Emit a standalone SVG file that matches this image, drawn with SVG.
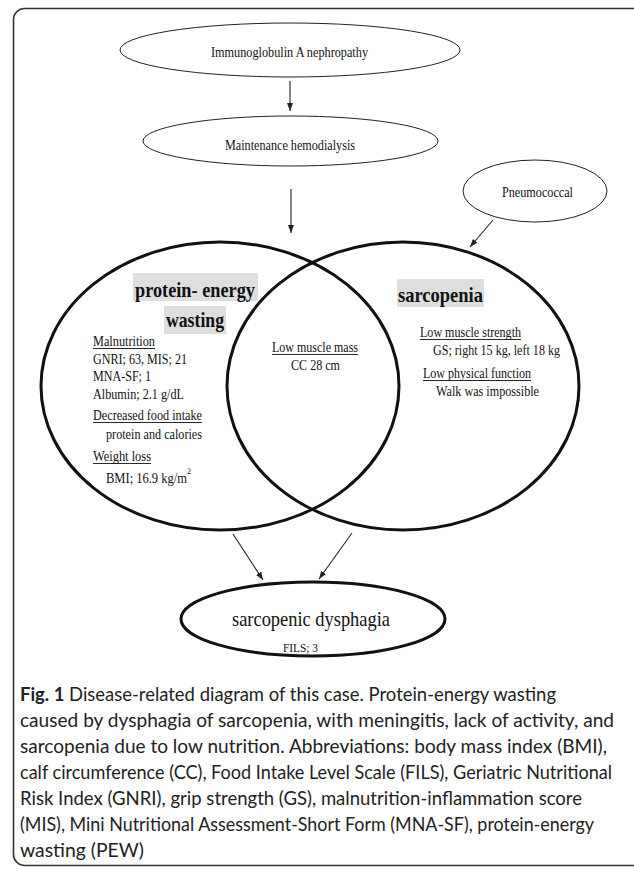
<svg xmlns="http://www.w3.org/2000/svg" width="634" height="869" viewBox="0 0 634 869">
<style>
.t{font-family:"Liberation Serif","Times New Roman",serif;font-size:14px;fill:#111}
.b{font-family:"Liberation Serif","Times New Roman",serif;font-weight:bold;font-size:21px;fill:#111}
.cap{font-family:Lato,"Open Sans",sans-serif;font-size:19px;fill:#222}
.thin{fill:none;stroke:#222;stroke-width:1}
.thick{fill:none;stroke:#111;stroke-width:3}
.ul{stroke:#111;stroke-width:0.9}
.hl{fill:#dedede}
.arr{stroke:#222;stroke-width:1.1;fill:none;marker-end:url(#ah)}
</style>
<defs>
<marker id="ah" markerUnits="userSpaceOnUse" markerWidth="8" markerHeight="8" refX="8" refY="4" orient="auto">
<path d="M0,1 L8,4 L0,7 z" fill="#222"/>
</marker>
</defs>
<rect x="0" y="0" width="634" height="869" fill="#fff"/>
<rect id="frame" x="13.5" y="8.5" width="640" height="857" rx="11" fill="none" stroke="#333" stroke-width="1.6"/>

<g id="node-igan">
<ellipse class="thin" cx="290" cy="50" rx="170" ry="27"/>
<text class="t" x="211" y="57" textLength="157" lengthAdjust="spacingAndGlyphs">Immunoglobulin A nephropathy</text>
</g>
<g id="node-hd">
<ellipse class="thin" cx="290.5" cy="141" rx="147.5" ry="25"/>
<text class="t" x="225" y="150" textLength="130" lengthAdjust="spacingAndGlyphs">Maintenance hemodialysis</text>
</g>
<g id="node-pneumo">
<ellipse class="thin" cx="535" cy="191" rx="72" ry="31"/>
<text class="t" x="502" y="197" textLength="71" lengthAdjust="spacingAndGlyphs">Pneumococcal</text>
</g>

<g id="node-pew">
<ellipse class="thick" cx="220" cy="386" rx="179" ry="144"/>
<rect class="hl" x="133" y="273" width="125" height="28"/>
<rect class="hl" x="164" y="306" width="62" height="28"/>
<text class="b" x="135" y="297" textLength="120" lengthAdjust="spacingAndGlyphs">protein- energy</text>
<text class="b" x="166" y="327" textLength="58" lengthAdjust="spacingAndGlyphs">wasting</text>
<text class="t" x="93" y="346" textLength="62" lengthAdjust="spacingAndGlyphs">Malnutrition</text>
<line class="ul" x1="93" y1="348.5" x2="155" y2="348.5"/>
<text class="t" x="93" y="364" textLength="94" lengthAdjust="spacingAndGlyphs">GNRI; 63, MIS; 21</text>
<text class="t" x="93" y="381" textLength="58" lengthAdjust="spacingAndGlyphs">MNA-SF; 1</text>
<text class="t" x="93" y="399" textLength="91" lengthAdjust="spacingAndGlyphs">Albumin; 2.1 g/dL</text>
<text class="t" x="93" y="420" textLength="109" lengthAdjust="spacingAndGlyphs">Decreased food intake</text>
<line class="ul" x1="93" y1="422.5" x2="202" y2="422.5"/>
<text class="t" x="106" y="439" textLength="96" lengthAdjust="spacingAndGlyphs">protein and calories</text>
<text class="t" x="93" y="461" textLength="58" lengthAdjust="spacingAndGlyphs">Weight loss</text>
<line class="ul" x1="93" y1="463.5" x2="151" y2="463.5"/>
<text class="t" x="106" y="483" textLength="85" lengthAdjust="spacingAndGlyphs">BMI; 16.9 kg/m<tspan dy="-9" style="font-size:9px">2</tspan></text>
</g>

<g id="node-sarc">
<ellipse class="thick" cx="403" cy="386" rx="176" ry="144"/>
<rect class="hl" x="397" y="279" width="87" height="28"/>
<text class="b" x="398" y="302" textLength="85" lengthAdjust="spacingAndGlyphs">sarcopenia</text>
<text class="t" x="420" y="337" textLength="101" lengthAdjust="spacingAndGlyphs">Low muscle strength</text>
<line class="ul" x1="420" y1="339.5" x2="521" y2="339.5"/>
<text class="t" x="433" y="355" textLength="127" lengthAdjust="spacingAndGlyphs">GS; right 15 kg, left 18 kg</text>
<text class="t" x="423" y="378" textLength="108" lengthAdjust="spacingAndGlyphs">Low physical function</text>
<line class="ul" x1="423" y1="380.5" x2="531" y2="380.5"/>
<text class="t" x="436" y="396" textLength="103" lengthAdjust="spacingAndGlyphs">Walk was impossible</text>
</g>

<g id="node-overlap">
<text class="t" x="272" y="352" textLength="86" lengthAdjust="spacingAndGlyphs">Low muscle mass</text>
<line class="ul" x1="272" y1="354.5" x2="358" y2="354.5"/>
<text class="t" x="291" y="370" textLength="49" lengthAdjust="spacingAndGlyphs">CC 28 cm</text>
</g>

<g id="node-dysphagia">
<ellipse class="thick" cx="313" cy="619" rx="132" ry="37"/>
<text class="t" x="232" y="626" style="font-size:21px" textLength="158" lengthAdjust="spacingAndGlyphs">sarcopenic dysphagia</text>
<text class="t" x="283" y="652" style="font-size:13px" textLength="35" lengthAdjust="spacingAndGlyphs">FILS; 3</text>
</g>

<g id="connectors">
<line class="arr" x1="290" y1="81" x2="290" y2="111"/>
<line class="arr" x1="291" y1="189" x2="291" y2="233"/>
<line class="arr" x1="493" y1="220" x2="470" y2="247"/>
<line class="arr" x1="233" y1="534" x2="263" y2="580"/>
<line class="arr" x1="352" y1="533" x2="319" y2="579"/>
</g>

<g id="caption">
<text class="cap" x="20" y="701" textLength="536" lengthAdjust="spacingAndGlyphs"><tspan font-weight="bold">Fig. 1</tspan> Disease-related diagram of this case. Protein-energy wasting</text>
<text class="cap" x="20" y="727" textLength="594" lengthAdjust="spacingAndGlyphs">caused by dysphagia of sarcopenia, with meningitis, lack of activity, and</text>
<text class="cap" x="20" y="753" textLength="587" lengthAdjust="spacingAndGlyphs">sarcopenia due to low nutrition. Abbreviations: body mass index (BMI),</text>
<text class="cap" x="20" y="779" textLength="592" lengthAdjust="spacingAndGlyphs">calf circumference (CC), Food Intake Level Scale (FILS), Geriatric Nutritional</text>
<text class="cap" x="20" y="805" textLength="562" lengthAdjust="spacingAndGlyphs">Risk Index (GNRI), grip strength (GS), malnutrition-inflammation score</text>
<text class="cap" x="20" y="831" textLength="574" lengthAdjust="spacingAndGlyphs">(MIS), Mini Nutritional Assessment-Short Form (MNA-SF), protein-energy</text>
<text class="cap" x="20" y="857" textLength="124" lengthAdjust="spacingAndGlyphs">wasting (PEW)</text>
</g>
</svg>
